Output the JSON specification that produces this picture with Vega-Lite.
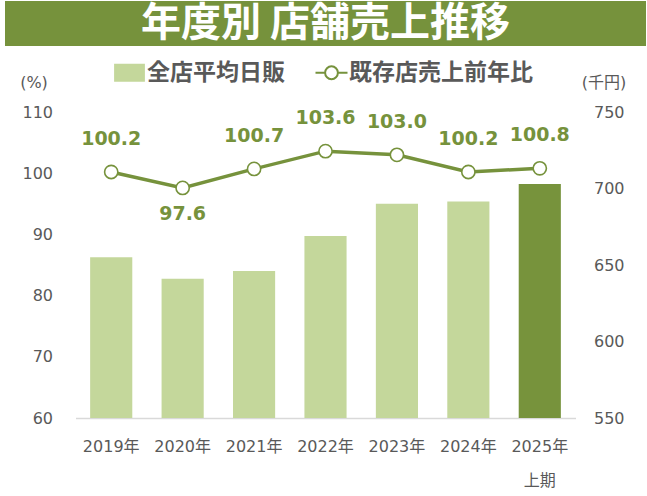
{
  "$schema": "https://vega.github.io/schema/vega-lite/v6.json",
  "padding": {"top": 1, "left": 5, "right": 1, "bottom": 0},
  "spacing": 66,
  "center": true,
  "bounds": "flush",
  "config": {
    "font": "DejaVu Sans, Noto Sans CJK JP",
    "view": {"stroke": null}
  },
  "vconcat": [
    {
      "width": 641,
      "height": 45,
      "view": {"fill": "#76923C", "stroke": null},
      "data": {"values": [{"title": "年度別 店舗売上推移"}]},
      "mark": {
        "type": "text",
        "font": "Noto Sans CJK JP",
        "fontWeight": "bold",
        "fontSize": 40,
        "color": "white",
        "baseline": "middle",
        "align": "center"
      },
      "encoding": {"text": {"field": "title"}}
    },
    {
      "width": 500,
      "height": 306,
      "data": {
        "values": [
          {"year": "2019年", "sales": 655, "rate": 100.2},
          {"year": "2020年", "sales": 641, "rate": 97.6},
          {"year": "2021年", "sales": 646, "rate": 100.7},
          {"year": "2022年", "sales": 669, "rate": 103.6},
          {"year": "2023年", "sales": 690, "rate": 103.0},
          {"year": "2024年", "sales": 691.5, "rate": 100.2},
          {"year": "2025年", "sales": 703, "rate": 100.8}
        ]
      },
      "encoding": {
        "x": {
          "field": "year",
          "type": "nominal",
          "sort": null,
          "scale": {"paddingInner": 0.41, "paddingOuter": 0.205},
          "axis": {
            "title": null,
            "labelAngle": 0,
            "labelFontSize": 16,
            "labelColor": "#595959",
            "labelPadding": 20,
            "labelLineHeight": 34,
            "labelExpr": "datum.value === '2025年' ? ['2025年', '上期'] : datum.label",
            "domainColor": "#D9D9D9",
            "domainWidth": 1.5,
            "ticks": false
          }
        }
      },
      "layer": [
        {
          "mark": {"type": "bar"},
          "encoding": {
            "y": {
              "field": "sales",
              "type": "quantitative",
              "scale": {"domain": [550, 750], "zero": false, "clamp": true},
              "axis": {
                "orient": "right",
                "values": [550, 600, 650, 700, 750],
                "grid": false,
                "domain": false,
                "ticks": false,
                "labelFontSize": 16,
                "labelColor": "#595959",
                "labelPadding": 18,
                "title": "(千円)",
                "titleAngle": 0,
                "titleFontSize": 16,
                "titleFontWeight": "normal",
                "titleColor": "#595959",
                "titleAlign": "center",
                "titleBaseline": "middle",
                "titleX": 28,
                "titleY": -30
              }
            },
            "color": {
              "condition": {"test": "datum.year === '2025年'", "value": "#77933C"},
              "datum": "全店平均日販",
              "scale": {
                "domain": ["全店平均日販", "既存店売上前年比"],
                "range": ["#C4D79B", "#76923C"]
              },
              "legend": {
                "title": null,
                "orient": "none",
                "direction": "horizontal",
                "legendX": 113,
                "legendY": 60,
                "columnPadding": 26,
                "labelFont": "Noto Sans CJK JP",
                "labelFontSize": 23,
                "labelFontWeight": "bold",
                "labelColor": "#595959",
                "labelOffset": 6,
                "labelLimit": 400,
                "symbolSize": 256,
                "encode": {
                  "symbols": {
                    "update": {
                      "shape": {"signal": "datum.value === '全店平均日販' ? 'M-1.8,-1H1.8V1H-1.8Z' : 'M-2,0H-0.8M0.8,0H2M0.8,0A0.8,0.8 0 1,1 -0.8,0A0.8,0.8 0 1,1 0.8,0Z'"},
                      "fillOpacity": {"signal": "datum.value === '全店平均日販' ? 1 : 0"},
                      "stroke": {"signal": "datum.value === '全店平均日販' ? 'transparent' : '#76923C'"},
                      "strokeWidth": {"value": 2},
                      "opacity": {"value": 1}
                    }
                  }
                }
              }
            }
          }
        },
        {
          "layer": [
            {
              "mark": {"type": "line", "strokeWidth": 3.5},
              "encoding": {
                "y": {
                  "field": "rate",
                  "type": "quantitative",
                  "scale": {"domain": [60, 110], "zero": false},
                  "axis": {
                    "orient": "left",
                    "values": [60, 70, 80, 90, 100, 110],
                    "grid": false,
                    "domain": false,
                    "ticks": false,
                    "labelFontSize": 16,
                    "labelColor": "#595959",
                    "labelPadding": 23,
                    "title": "(%)",
                    "titleAngle": 0,
                    "titleFontSize": 16,
                    "titleFontWeight": "normal",
                    "titleColor": "#595959",
                    "titleAlign": "center",
                    "titleBaseline": "middle",
                    "titleX": -42,
                    "titleY": -30
                  }
                },
                "color": {"datum": "既存店売上前年比"}
              }
            },
            {
              "mark": {
                "type": "point",
                "filled": true,
                "fill": "white",
                "stroke": "#76923C",
                "strokeWidth": 1.6,
                "size": 175,
                "opacity": 1
              },
              "encoding": {"y": {"field": "rate", "type": "quantitative"}}
            },
            {
              "transform": [{"filter": "datum.rate >= 99"}],
              "mark": {
                "type": "text",
                "fontSize": 19,
                "fontWeight": "bold",
                "color": "#76923C",
                "baseline": "middle",
                "dy": -33
              },
              "encoding": {
                "y": {"field": "rate", "type": "quantitative"},
                "text": {"field": "rate", "type": "quantitative", "format": ".1f"}
              }
            },
            {
              "transform": [{"filter": "datum.rate < 99"}],
              "mark": {
                "type": "text",
                "fontSize": 19,
                "fontWeight": "bold",
                "color": "#76923C",
                "baseline": "middle",
                "dy": 26
              },
              "encoding": {
                "y": {"field": "rate", "type": "quantitative"},
                "text": {"field": "rate", "type": "quantitative", "format": ".1f"}
              }
            }
          ]
        }
      ],
      "resolve": {"scale": {"y": "independent"}}
    }
  ]
}
